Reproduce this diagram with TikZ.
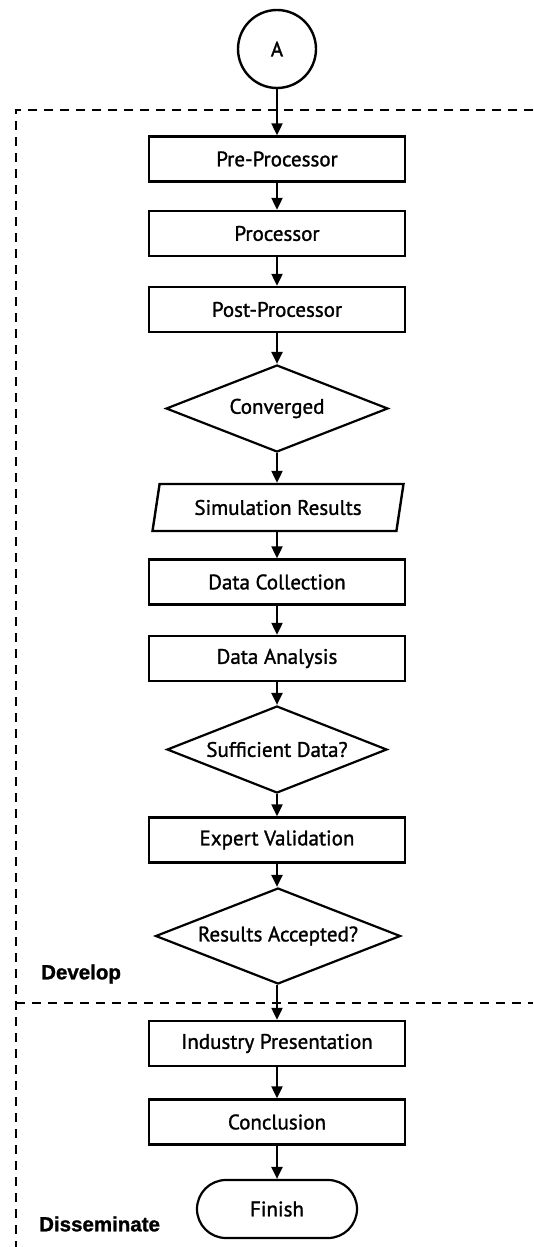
\documentclass[tikz,border=0pt]{standalone}
\usepackage{fontspec}
\setmainfont{PT Sans}
\newfontfamily\boxfont{PT Sans}[FakeBold=1.3]
\newfontfamily\phasefont{Liberation Sans}[FakeBold=1.2]
\usetikzlibrary{shapes.geometric,shapes.misc,arrows.meta}
\begin{document}
\begin{tikzpicture}[x=1pt,y=-1pt,
  txt/.style={font=\boxfont\fontsize{21}{24}\selectfont},
  procbox/.style={txt,draw,line width=2.4pt,rectangle,minimum width=256pt,minimum height=45pt,inner sep=0pt},
  decision/.style={txt,draw,line width=2.2pt,diamond,aspect=2.55,inner sep=0pt},
  iobox/.style={txt,draw,line width=2.4pt,trapezium,trapezium left angle=65,trapezium right angle=115,trapezium stretches body,minimum width=251pt,minimum height=47pt,inner sep=0pt},
  connector/.style={txt,draw,line width=2.4pt,circle,minimum size=78pt,inner sep=0pt},
  terminal/.style={txt,draw,line width=2.2pt,rounded rectangle,minimum width=160pt,minimum height=58pt,inner sep=0pt},
  flow/.style={-{Triangle[length=12pt,width=11pt]},line width=2.2pt},
  frameline/.style={line width=2.2pt,dash pattern=on 9pt off 7pt},
  phase/.style={font=\phasefont\bfseries\fontsize{20.5}{24}\selectfont,anchor=west,inner sep=0pt}
]
\useasboundingbox (0,0) rectangle (533,1247);
\fill[white] (0,0) rectangle (533,1247);

% phase frame
\coordinate (tr) at (533,110);
\coordinate (tl) at (16,110);
\coordinate (bl) at (16,1247);
\coordinate (ml) at (16,1003);
\coordinate (mr) at (533,1003);
\draw[frameline] (tr) -- (tl) -- (bl);
\draw[frameline] (ml) -- (mr);

\node[connector] (A) at (277,49) {A};
\node[procbox] (pre) at (277,159) {Pre-Processor};
\node[procbox] (proc) at (277,233.5) {Processor};
\node[procbox] (post) at (277,309.5) {Post-Processor};
\node[decision,minimum width=222pt,minimum height=87pt] (conv) at (277,408.5) {Converged};
\node[iobox] (sim) at (278,507.5) {Simulation Results};
\node[procbox] (dc) at (277,582) {Data Collection};
\node[procbox] (da) at (277,658.5) {Data Analysis};
\node[decision,minimum width=220pt,minimum height=87pt] (suf) at (277,749.5) {Sufficient Data?};
\node[procbox] (ev) at (277,840) {Expert Validation};
\node[decision,minimum width=245pt,minimum height=96pt] (ra) at (278,936) {Results Accepted?};
\node[procbox] (ip) at (277,1043.5) {Industry Presentation};
\node[procbox] (con) at (277,1122) {Conclusion};
\node[terminal] (fin) at (277,1209) {Finish};

\node[phase] (dev) at (41,974) {Develop};
\node[phase] (dis) at (39,1224) {Disseminate};

\draw[flow] (A) -- (pre);
\draw[flow] (pre) -- (proc);
\draw[flow] (proc) -- (post);
\draw[flow] (post) -- (conv);
\draw[flow] (conv.south) -- (conv.south |- sim.north);
\draw[flow] (sim.south -| dc.north) -- (dc.north);
\draw[flow] (dc) -- (da);
\draw[flow] (da) -- (suf);
\draw[flow] (suf) -- (ev);
\draw[flow] (ev) -- (ev.south |- ra.north);
\draw[flow] (ra.south -| ip.north) -- (ip.north);
\draw[flow] (ip) -- (con);
\draw[flow] (con) -- (fin);
\end{tikzpicture}
\end{document}
